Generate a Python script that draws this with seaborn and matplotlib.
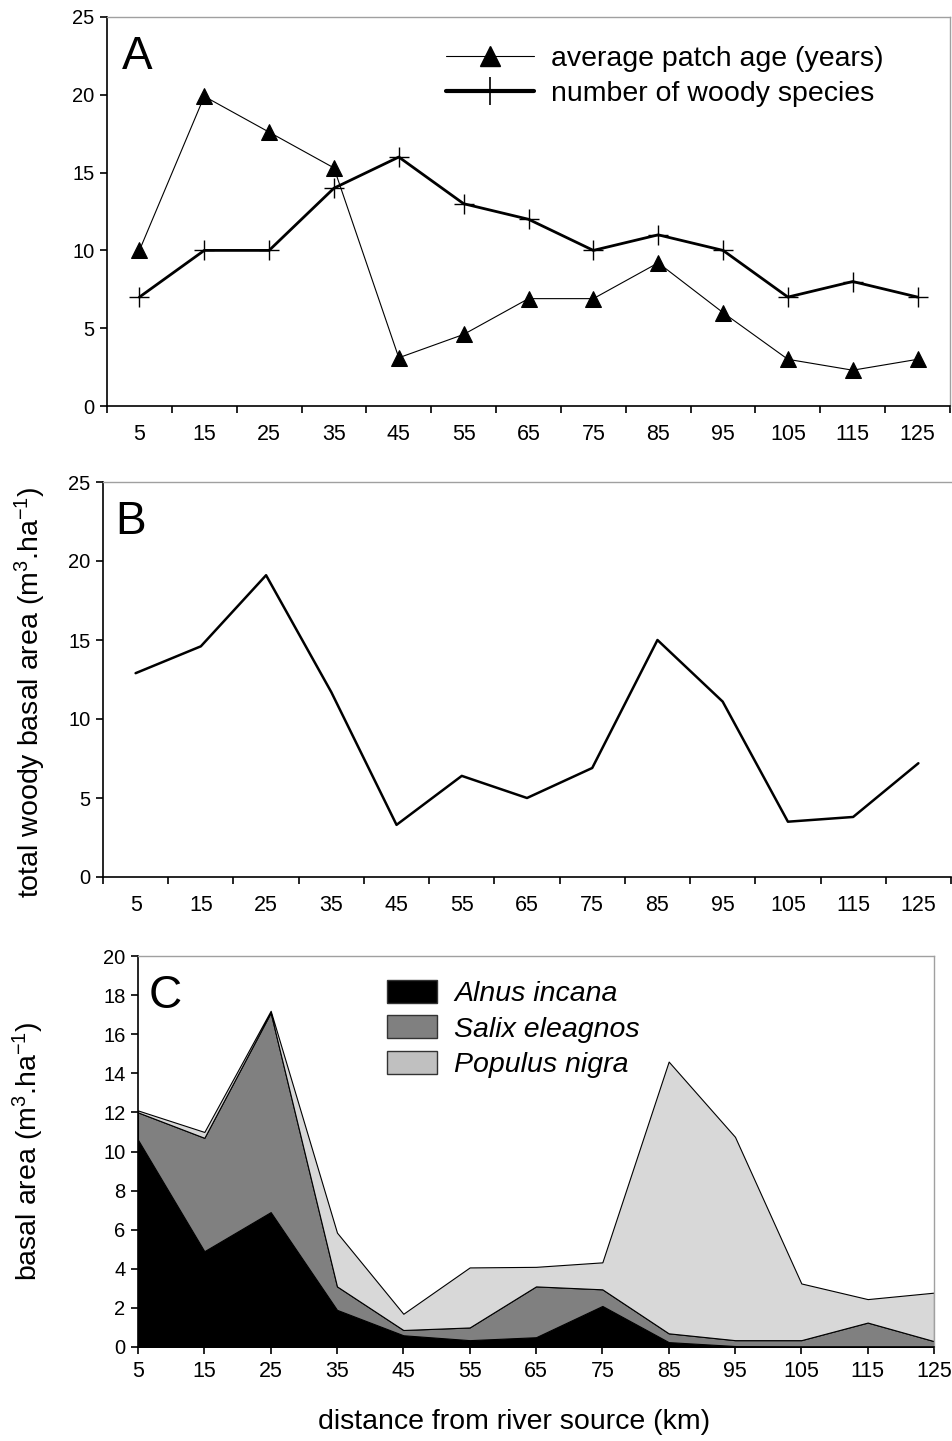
import numpy as np
import pandas as pd
import seaborn as sns
import matplotlib.pyplot as plt
from matplotlib.lines import Line2D
from matplotlib.patches import Patch

# distance from river source (km)
distance = [5, 15, 25, 35, 45, 55, 65, 75, 85, 95, 105, 115, 125]

# panel A
patch_age = [10.0, 19.9, 17.6, 15.3, 3.1, 4.6, 6.9, 6.9, 9.2, 6.0, 3.0, 2.3, 3.0]
n_species = [7, 10, 10, 14, 16, 13, 12, 10, 11, 10, 7, 8, 7]

# panel B
total_basal = [12.9, 14.6, 19.1, 11.7, 3.3, 6.4, 5.0, 6.9, 15.0, 11.1, 3.5, 3.8, 7.2]

# panel C (stacked)
alnus = [10.6, 4.9, 6.9, 1.9, 0.6, 0.35, 0.5, 2.1, 0.25, 0.05, 0.0, 0.0, 0.0]
salix = [1.4, 5.8, 10.2, 1.2, 0.27, 0.65, 2.6, 0.85, 0.45, 0.3, 0.35, 1.25, 0.3]
populus = [0.1, 0.3, 0.1, 2.75, 0.83, 3.07, 1.0, 1.38, 13.9, 10.4, 2.9, 1.2, 2.48]
species = ['Alnus incana', 'Salix eleagnos', 'Populus nigra']

sns.set_theme(style="white")
plt.rcParams['font.family'] = ['Liberation Sans', 'DejaVu Sans']
plt.rcParams['mathtext.fontset'] = 'custom'
plt.rcParams['mathtext.rm'] = 'Liberation Sans'
plt.rcParams['mathtext.it'] = 'Liberation Sans:italic'
for k in ['text.color', 'axes.labelcolor', 'xtick.color', 'ytick.color',
          'xtick.labelcolor', 'ytick.labelcolor']:
    plt.rcParams[k] = 'black'

W, H = 952, 1441
fig = plt.figure(figsize=(W / 100, H / 100), dpi=100)


def px_axes(l, t, r, b):
    return fig.add_axes([l / W, 1 - b / H, (r - l) / W, (b - t) / H])


def style_axes(ax):
    for s in ['left', 'bottom']:
        ax.spines[s].set_color('black')
        ax.spines[s].set_linewidth(1.2)
    for s in ['top', 'right']:
        ax.spines[s].set_color('#a0a0a0')
        ax.spines[s].set_linewidth(1.0)
    ax.tick_params(axis='y', direction='out', length=5, width=1.2, color='black',
                   labelsize=14.5, pad=4, left=True, labelcolor='black')
    ax.set_facecolor('white')


def category_x(ax):
    # tick marks between sites, labels centred on sites
    ax.set_xlim(0, 130)
    ax.set_xticks(np.arange(0, 131, 10), labels=[])
    ax.set_xticks(distance, labels=[str(d) for d in distance], minor=True)
    ax.tick_params(axis='x', which='major', direction='out', length=5, width=1.2,
                   color='black', bottom=True)
    ax.tick_params(axis='x', which='minor', length=0, labelsize=15.5, pad=13,
                   bottom=True, labelcolor='black')


# ---------- A ----------
axA = px_axes(107, 17, 950, 406)
style_axes(axA)
sns.lineplot(x=distance, y=patch_age, ax=axA, color='black', linewidth=0.8,
             marker='^', markersize=11, markeredgecolor='black')
sns.lineplot(x=distance, y=n_species, ax=axA, color='black', linewidth=2.0,
             marker='+', markersize=14, markeredgewidth=1.0, markeredgecolor='black')
axA.set_ylim(0, 25)
axA.set_yticks(range(0, 26, 5))
category_x(axA)
axA.text(0.018, 0.955, 'A', transform=axA.transAxes, fontsize=33, va='top', ha='left')
hA = [Line2D([], [], color='black', lw=0.8, marker='^', markersize=14),
      Line2D([], [], color='black', lw=3.0, marker='+', markersize=20, markeredgewidth=1.2)]
axA.legend(hA, ['average patch age (years)', 'number of woody species'],
           loc='upper left', bbox_to_anchor=(446 / W, 1 - 46 / H),
           bbox_transform=fig.transFigure, frameon=False, fontsize=20.5,
           handlelength=3.1, handletextpad=0.6, labelspacing=0.33, borderpad=0,
           borderaxespad=0)

# ---------- B ----------
axB = px_axes(103, 482, 951, 877)
style_axes(axB)
axB.spines['right'].set_visible(False)
sns.lineplot(x=distance, y=total_basal, ax=axB, color='black', linewidth=1.8)
axB.set_ylim(0, 25)
axB.set_yticks(range(0, 26, 5))
category_x(axB)
axB.text(0.015, 0.955, 'B', transform=axB.transAxes, fontsize=33, va='top', ha='left')
fig.text(30 / W, 1 - 692 / H,
         r'total woody basal area (m$\mathregular{^{3}}$.ha$\mathregular{^{-1}}$)',
         rotation=90, fontsize=20.5, ha='center', va='center')

# ---------- C ----------
axC = px_axes(138, 956, 934, 1347)
style_axes(axC)
fills = ['#000000', '#808080', '#d8d8d8']
axC.stackplot(distance, alnus, salix, populus, colors=fills,
              edgecolor='black', linewidth=0.8)
axC.set_xlim(5, 125)
axC.set_ylim(0, 20)
axC.set_yticks(range(0, 21, 2))
axC.set_xticks(distance, labels=[str(d) for d in distance])
axC.tick_params(axis='x', direction='out', length=5, width=1.2, color='black',
                labelsize=15.5, pad=5, bottom=True, labelcolor='black')
axC.text(0.013, 0.955, 'C', transform=axC.transAxes, fontsize=33, va='top', ha='left')
hC = [Patch(facecolor=c, edgecolor='#333333', linewidth=1.0)
      for c in ['#000000', '#808080', '#c0c0c0']]
axC.legend(hC, species, loc='upper left', bbox_to_anchor=(387 / W, 1 - 980 / H),
           bbox_transform=fig.transFigure, frameon=False,
           prop={'style': 'italic', 'size': 20.5},
           handlelength=1.75, handleheight=0.85, handletextpad=0.6,
           labelspacing=0.29, borderpad=0, borderaxespad=0)
fig.text(28 / W, 1 - 1151 / H,
         r'basal area (m$\mathregular{^{3}}$.ha$\mathregular{^{-1}}$)',
         rotation=90, fontsize=20.5, ha='center', va='center')

fig.text(514 / W, 1 - 1422 / H, 'distance from river source (km)',
         fontsize=20.5, ha='center', va='center')

fig.savefig('out.png', dpi=100, facecolor='white')
